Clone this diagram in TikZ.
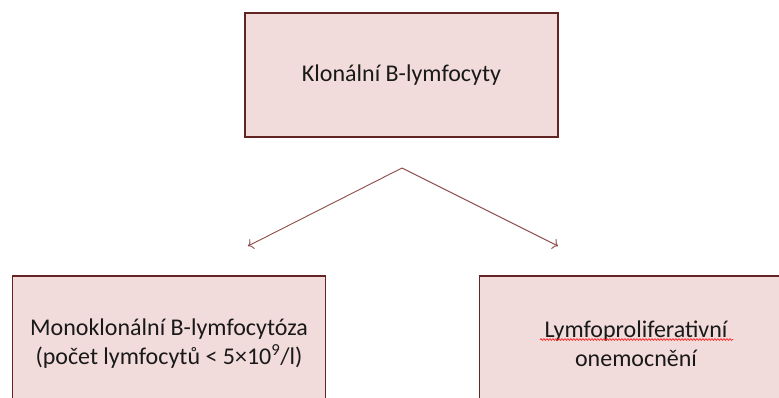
\documentclass[tikz,border=0pt]{standalone}
\usepackage{fontspec}
\setmainfont{Carlito}
\usetikzlibrary{arrows.meta,decorations.pathmorphing}
\definecolor{boxfill}{HTML}{F2DCDB}
\definecolor{boxline}{HTML}{632523}
\definecolor{arrline}{HTML}{8C4A48}
\begin{document}
\begin{tikzpicture}[x=1pt,y=-1pt,font=\fontsize{24}{29}\selectfont,
	box/.style={draw=boxline,line width=1.6pt,fill=boxfill,minimum width=313pt,minimum height=124pt,align=center,text=black!90},
	arr/.style={draw=arrline,line width=.9pt,-{To[length=5pt,width=11pt]}}]
			\useasboundingbox(0,0)rectangle(779,397);
			\clip(0,0)rectangle(779,397);
			\node[box](K)at(401.5,75){Klonální B-lymfocyty};
			\node[box,minimum height=136pt](M)at(169,344){Monoklonální B-lymfocytóza\\(počet lymfocytů < 5×10\textsuperscript{9}/l)};
			\node[box,minimum height=136pt](L)at(636,344){Lymfoproliferativní\\onemocnění};
			\coordinate(A)at(402,168);
			\coordinate(Ml)at(248,246);
			\coordinate(Lr)at(558,246);
			\draw[arr](A)--(Ml);
			\draw[arr](A)--(Lr);
			% spell-check underline
			\draw[red!85,line width=.7pt,decorate,decoration={snake,amplitude=.9pt,segment length=3pt}]
				(540,339.5)--(733,339.5);
		\end{tikzpicture}
\end{document}
